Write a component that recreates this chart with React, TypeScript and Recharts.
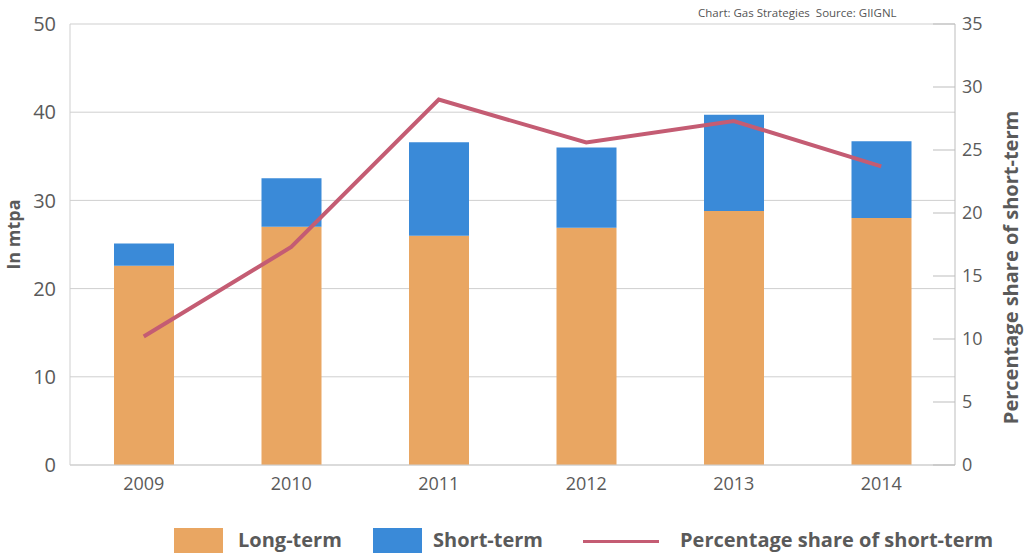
import React from "react";
import {
  ComposedChart,
  Bar,
  Line,
  XAxis,
  YAxis,
  CartesianGrid,
  Legend,
} from "recharts";

const years = ["2009", "2010", "2011", "2012", "2013", "2014"];
const longTerm = [22.6, 27.0, 26.0, 26.9, 28.8, 28.0];
const shortTerm = [2.5, 5.5, 10.6, 9.1, 10.9, 8.7];
const shareShort = [10.2, 17.3, 29.0, 25.6, 27.3, 23.7];

const leftTicks = [0, 10, 20, 30, 40, 50];
const rightTicks = [0, 5, 10, 15, 20, 25, 30, 35];

const ORANGE = "#E9A662";
const BLUE = "#3A8AD8";
const RED = "#C45C73";
const TEXT = "#5a5a5a";
const FONT = "'Open Sans', sans-serif";

const data = years.map((year, i) => ({
  year,
  longTerm: longTerm[i],
  shortTerm: shortTerm[i],
  share: shareShort[i],
}));

function RightTick(props: any) {
  const { x, y, payload } = props;
  return (
    <g>
      <line x1={x - 22} x2={x} y1={y} y2={y} stroke="#bdbdbd" strokeWidth={1} />
      <text x={x + 7} y={y} dy={6} fill={TEXT} fontSize={18} fontFamily={FONT}>
        {payload.value}
      </text>
    </g>
  );
}

function LegendBox() {
  const label = {
    fontFamily: FONT,
    fontWeight: 700,
    fontSize: 20,
    lineHeight: "25px",
    color: TEXT,
  } as React.CSSProperties;
  return (
    <div style={{ position: "relative", height: 58 }}>
      <div style={{ position: "absolute", left: 174, top: 27, width: 49, height: 25, background: ORANGE }} />
      <div style={{ ...label, position: "absolute", left: 238, top: 26 }}>Long-term</div>
      <div style={{ position: "absolute", left: 373, top: 27, width: 49, height: 25, background: BLUE }} />
      <div style={{ ...label, position: "absolute", left: 433, top: 26 }}>Short-term</div>
      <div style={{ position: "absolute", left: 583, top: 39, width: 76, height: 3, background: RED }} />
      <div style={{ ...label, position: "absolute", left: 680, top: 26 }}>
        Percentage share of short-term
      </div>
    </div>
  );
}

export default function App() {
  return (
    <div style={{ position: "absolute", left: 0, top: 0, width: 1024, height: 559, background: "#fff" }}>
      <div
        style={{
          position: "absolute",
          left: 698,
          top: 5,
          fontFamily: FONT,
          fontSize: 11.5,
          color: "#555",
          whiteSpace: "pre",
        }}
      >
        {"Chart: Gas Strategies  Source: GIIGNL"}
      </div>
      <ComposedChart
        width={1024}
        height={559}
        data={data}
        margin={{ top: 24, right: 0, bottom: 0, left: 0 }}
        barCategoryGap={0}
      >
        <CartesianGrid yAxisId="left" vertical={false} stroke="#cfcfcf" />
        <XAxis
          dataKey="year"
          height={36}
          axisLine={{ stroke: "#cfcfcf" }}
          tickLine={false}
          tick={{ fill: TEXT, fontSize: 18, fontFamily: FONT }}
          tickMargin={6}
        />
        <YAxis
          yAxisId="left"
          width={70}
          domain={[0, 50]}
          ticks={leftTicks}
          axisLine={{ stroke: "#cfcfcf" }}
          tickLine={false}
          tickMargin={8}
          tick={{ fill: TEXT, fontSize: 20, fontFamily: FONT }}
          label={{
            value: "In mtpa",
            angle: -90,
            position: "insideLeft",
            offset: 0,
            dx: 14,
            dy: -10,
            style: { fill: TEXT, fontSize: 18, fontWeight: 700, fontFamily: FONT, textAnchor: "middle" },
          }}
        />
        <YAxis
          yAxisId="right"
          orientation="right"
          width={69}
          domain={[0, 35]}
          ticks={rightTicks}
          axisLine={{ stroke: "#bdbdbd" }}
          tickLine={false}
          tickSize={0}
          tickMargin={0}
          tick={<RightTick />}
          label={{
            value: "Percentage share of short-term",
            angle: -90,
            position: "insideRight",
            offset: 0,
            dx: -13,
            dy: 23,
            style: { fill: TEXT, fontSize: 20, fontWeight: 700, fontFamily: FONT, textAnchor: "middle" },
          }}
        />
        <Legend verticalAlign="bottom" height={58} content={() => <LegendBox />} />
        <Bar yAxisId="left" dataKey="longTerm" stackId="a" fill={ORANGE} barSize={60} isAnimationActive={false} />
        <Bar yAxisId="left" dataKey="shortTerm" stackId="a" fill={BLUE} barSize={60} isAnimationActive={false} />
        <Line
          yAxisId="right"
          dataKey="share"
          stroke={RED}
          strokeWidth={4}
          dot={false}
          activeDot={false}
          type="linear"
          isAnimationActive={false}
        />
      </ComposedChart>
    </div>
  );
}
